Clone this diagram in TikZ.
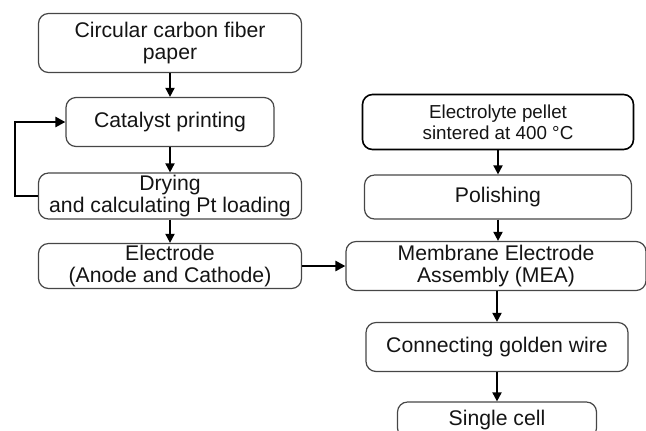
\documentclass[tikz,border=0pt]{standalone}
\usepackage{fontspec}
\setmainfont{Liberation Sans}
\usetikzlibrary{arrows.meta}
\definecolor{boxline}{RGB}{70,70,70}
\definecolor{textgray}{RGB}{20,20,20}
\tikzset{
    stepbox/.style={draw=boxline, rounded corners=5pt, line width=0.6pt,
        align=center, inner sep=0pt, text=textgray,
        font=\fontsize{10.6}{11}\selectfont},
    flowarrow/.style={line width=0.9pt, -{Triangle[length=4.5pt,width=4.5pt]}},
    backflow/.style={line width=1.3pt, -{Triangle[length=5pt,width=5pt]}}
}

\begin{document}
\begin{tikzpicture}[x=0.5pt,y=-0.5pt]
    \useasboundingbox (0,0) rectangle (646,430);
    \clip (0,0) rectangle (646,430);
    \node[stepbox, minimum width=131.5pt, minimum height=29.5pt]
        (paper) at (170,43) {Circular carbon fiber\\paper};
    \node[stepbox, minimum width=104pt, minimum height=24.5pt]
        (printing) at (170,122) {Catalyst printing};
    \node[stepbox, minimum width=131.5pt, minimum height=23pt]
        (drying) at (170,196) {Drying\\and calculating Pt loading};
    \node[stepbox, minimum width=131.5pt, minimum height=22.5pt]
        (electrode) at (170,266) {Electrode\\(Anode and Cathode)};
    \node[stepbox, minimum width=135.5pt, minimum height=27.5pt,
        draw=black, line width=0.8pt, font=\fontsize{9.4}{10.5}\selectfont]
        (pellet) at (498,122) {Electrolyte pellet\\sintered at 400 °C};
    \node[stepbox, minimum width=133.5pt, minimum height=22pt]
        (polishing) at (498,197) {Polishing};
    \node[stepbox, minimum width=150pt, minimum height=24.5pt]
        (mea) at (496,266) {Membrane Electrode\\Assembly (MEA)};
    \node[stepbox, minimum width=131pt, minimum height=24.5pt]
        (wire) at (497,347) {Connecting golden wire};
    \node[stepbox, minimum width=99.5pt, minimum height=18pt]
        (cell) at (497,420) {Single cell};
    \draw[flowarrow] (paper) -- (printing);
    \draw[flowarrow] (printing) -- (drying);
    \draw[flowarrow] (drying) -- (electrode);
    \draw[flowarrow] (pellet) -- (polishing);
    \draw[flowarrow] (polishing.south) -- (polishing.south |- mea.north);
    \draw[flowarrow] (wire.north |- mea.south) -- (wire.north);
    \draw[flowarrow] (wire) -- (cell);
    \draw[backflow] (drying.west) -- ++(-23,0) |- (printing.west);
    \draw[backflow] (electrode) -- (mea);
\end{tikzpicture}
\end{document}
